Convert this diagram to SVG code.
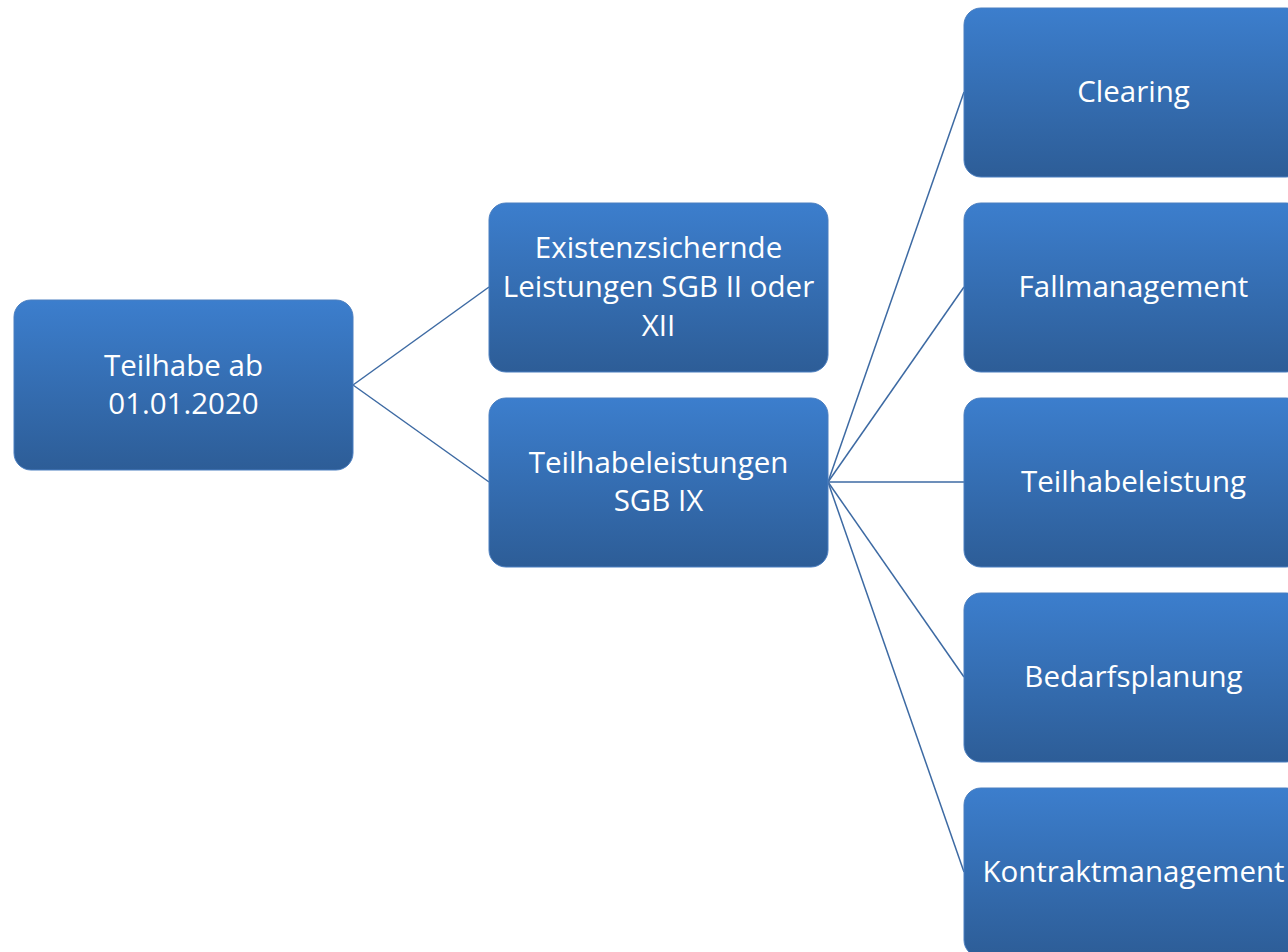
<svg xmlns="http://www.w3.org/2000/svg" width="1288" height="952" viewBox="0 0 1288 952">
<style>
.box{fill:url(#g);stroke:#4a7ec0;stroke-width:1}
.t{font-family:"Open Sans","Noto Sans",sans-serif;font-size:29.5px;fill:#ffffff;text-anchor:middle}
.c{stroke:#3d6aa3;stroke-width:1.5;fill:none}
</style>
<defs>
<linearGradient id="g" x1="0" y1="0" x2="0" y2="1">
<stop offset="0" stop-color="#3c7ecd"/>
<stop offset="1" stop-color="#2d5d97"/>
</linearGradient>
</defs>
<rect width="1288" height="952" fill="#ffffff"/>
<g id="connectors">
<line class="c" x1="353" y1="385" x2="489" y2="287"/>
<line class="c" x1="353" y1="385" x2="489" y2="482"/>
<line class="c" x1="828" y1="482" x2="964" y2="92"/>
<line class="c" x1="828" y1="482" x2="964" y2="287"/>
<line class="c" x1="828" y1="482" x2="964" y2="482"/>
<line class="c" x1="828" y1="482" x2="964" y2="677"/>
<line class="c" x1="828" y1="482" x2="964" y2="872"/>
</g>
<g id="root">
<rect class="box" x="14" y="300" width="339" height="170" rx="17"/>
<text class="t" x="183.5" y="376">Teilhabe ab</text>
<text class="t" x="183.5" y="414">01.01.2020</text>
</g>
<g id="existenz">
<rect class="box" x="489" y="203" width="339" height="169" rx="17"/>
<text class="t" x="658.5" y="258">Existenzsichernde</text>
<text class="t" x="658.5" y="297">Leistungen SGB II oder</text>
<text class="t" x="658.5" y="336">XII</text>
</g>
<g id="teilhabeleistungen">
<rect class="box" x="489" y="398" width="339" height="169" rx="17"/>
<text class="t" x="658.5" y="473">Teilhabeleistungen</text>
<text class="t" x="658.5" y="511">SGB IX</text>
</g>
<g id="clearing">
<rect class="box" x="964" y="8" width="339" height="169" rx="17"/>
<text class="t" x="1133.5" y="102">Clearing</text>
</g>
<g id="fallmanagement">
<rect class="box" x="964" y="203" width="339" height="169" rx="17"/>
<text class="t" x="1133.5" y="297">Fallmanagement</text>
</g>
<g id="teilhabeleistung">
<rect class="box" x="964" y="398" width="339" height="169" rx="17"/>
<text class="t" x="1133.5" y="492">Teilhabeleistung</text>
</g>
<g id="bedarfsplanung">
<rect class="box" x="964" y="593" width="339" height="169" rx="17"/>
<text class="t" x="1133.5" y="687">Bedarfsplanung</text>
</g>
<g id="kontraktmanagement">
<rect class="box" x="964" y="788" width="339" height="169" rx="17"/>
<text class="t" x="1133.5" y="882">Kontraktmanagement</text>
</g>
</svg>
